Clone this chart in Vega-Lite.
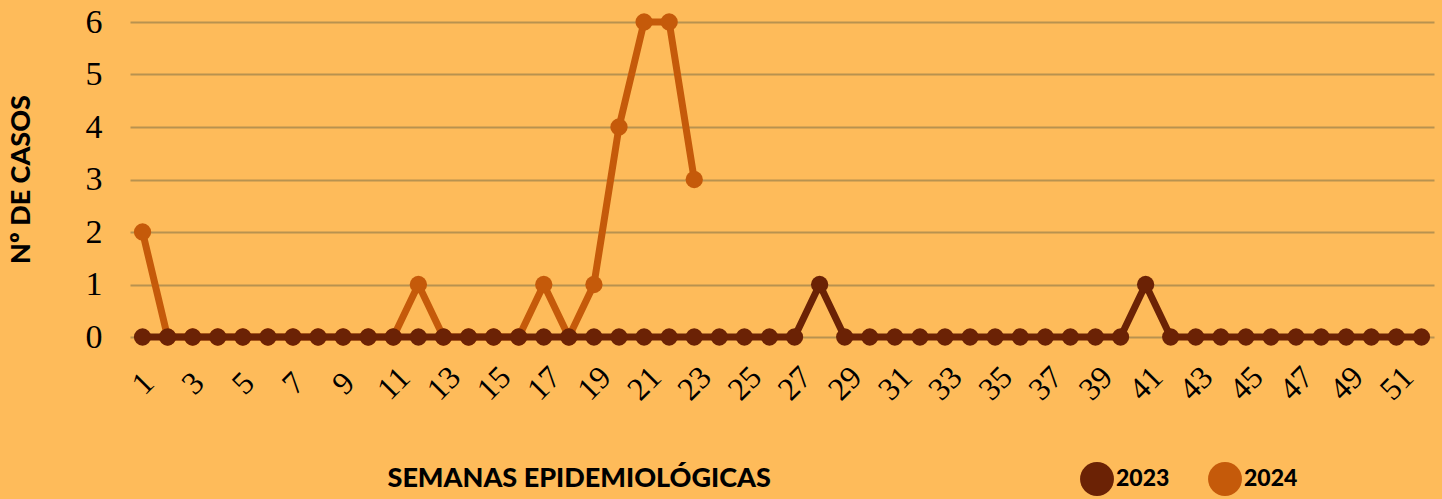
{
  "$schema": "https://vega.github.io/schema/vega-lite/v6.json",
  "width": 1304,
  "height": 315,
  "autosize": {"type": "none"},
  "padding": {"left": 130, "top": 22, "right": 8, "bottom": 162},
  "background": "#FEBB5A",
  "config": {"view": {"stroke": null}},
  "data": {"values": [
    {"semana":1,"anio":"2024","casos":2},{"semana":2,"anio":"2024","casos":0},{"semana":3,"anio":"2024","casos":0},{"semana":4,"anio":"2024","casos":0},{"semana":5,"anio":"2024","casos":0},{"semana":6,"anio":"2024","casos":0},{"semana":7,"anio":"2024","casos":0},{"semana":8,"anio":"2024","casos":0},{"semana":9,"anio":"2024","casos":0},{"semana":10,"anio":"2024","casos":0},{"semana":11,"anio":"2024","casos":0},{"semana":12,"anio":"2024","casos":1},{"semana":13,"anio":"2024","casos":0},{"semana":14,"anio":"2024","casos":0},{"semana":15,"anio":"2024","casos":0},{"semana":16,"anio":"2024","casos":0},{"semana":17,"anio":"2024","casos":1},{"semana":18,"anio":"2024","casos":0},{"semana":19,"anio":"2024","casos":1},{"semana":20,"anio":"2024","casos":4},{"semana":21,"anio":"2024","casos":6},{"semana":22,"anio":"2024","casos":6},{"semana":23,"anio":"2024","casos":3},
    {"semana":1,"anio":"2023","casos":0},{"semana":2,"anio":"2023","casos":0},{"semana":3,"anio":"2023","casos":0},{"semana":4,"anio":"2023","casos":0},{"semana":5,"anio":"2023","casos":0},{"semana":6,"anio":"2023","casos":0},{"semana":7,"anio":"2023","casos":0},{"semana":8,"anio":"2023","casos":0},{"semana":9,"anio":"2023","casos":0},{"semana":10,"anio":"2023","casos":0},{"semana":11,"anio":"2023","casos":0},{"semana":12,"anio":"2023","casos":0},{"semana":13,"anio":"2023","casos":0},{"semana":14,"anio":"2023","casos":0},{"semana":15,"anio":"2023","casos":0},{"semana":16,"anio":"2023","casos":0},{"semana":17,"anio":"2023","casos":0},{"semana":18,"anio":"2023","casos":0},{"semana":19,"anio":"2023","casos":0},{"semana":20,"anio":"2023","casos":0},{"semana":21,"anio":"2023","casos":0},{"semana":22,"anio":"2023","casos":0},{"semana":23,"anio":"2023","casos":0},{"semana":24,"anio":"2023","casos":0},{"semana":25,"anio":"2023","casos":0},{"semana":26,"anio":"2023","casos":0},{"semana":27,"anio":"2023","casos":0},{"semana":28,"anio":"2023","casos":1},{"semana":29,"anio":"2023","casos":0},{"semana":30,"anio":"2023","casos":0},{"semana":31,"anio":"2023","casos":0},{"semana":32,"anio":"2023","casos":0},{"semana":33,"anio":"2023","casos":0},{"semana":34,"anio":"2023","casos":0},{"semana":35,"anio":"2023","casos":0},{"semana":36,"anio":"2023","casos":0},{"semana":37,"anio":"2023","casos":0},{"semana":38,"anio":"2023","casos":0},{"semana":39,"anio":"2023","casos":0},{"semana":40,"anio":"2023","casos":0},{"semana":41,"anio":"2023","casos":1},{"semana":42,"anio":"2023","casos":0},{"semana":43,"anio":"2023","casos":0},{"semana":44,"anio":"2023","casos":0},{"semana":45,"anio":"2023","casos":0},{"semana":46,"anio":"2023","casos":0},{"semana":47,"anio":"2023","casos":0},{"semana":48,"anio":"2023","casos":0},{"semana":49,"anio":"2023","casos":0},{"semana":50,"anio":"2023","casos":0},{"semana":51,"anio":"2023","casos":0},{"semana":52,"anio":"2023","casos":0}
  ]},
  "encoding": {
    "x": {
      "field": "semana", "type": "quantitative",
      "scale": {"domain": [0.5, 52.5], "nice": false, "zero": false},
      "axis": {
        "title": "SEMANAS EPIDEMIOLÓGICAS",
        "values": [1,3,5,7,9,11,13,15,17,19,21,23,25,27,29,31,33,35,37,39,41,43,45,47,49,51],
        "grid": false, "domain": false, "ticks": false,
        "labelAngle": -45, "labelAlign": "center", "labelBaseline": "middle",
        "labelPadding": 46, "labelFont": "Liberation Serif", "labelFontSize": 32, "labelColor": "#000000",
        "titleFont": "Lato", "titleFontWeight": 900, "titleFontSize": 27, "titleColor": "#000000",
        "titleAnchor": "start", "titleAlign": "left", "titleBaseline": "middle", "titleX": 257, "titleY": 141
      }
    },
    "y": {
      "field": "casos", "type": "quantitative",
      "scale": {"domain": [0, 6], "nice": false},
      "axis": {
        "title": "Nº DE CASOS",
        "values": [0,1,2,3,4,5,6],
        "grid": true, "gridColor": "#B8924F", "gridWidth": 2,
        "domain": false, "ticks": false,
        "labelPadding": 28, "labelFont": "Liberation Serif", "labelFontSize": 34, "labelColor": "#000000",
        "titleFont": "Lato", "titleFontWeight": 900, "titleFontSize": 27, "titleColor": "#000000",
        "titleX": -95, "titleY": 157, "titleAnchor": "middle"
      }
    },
    "color": {
      "field": "anio", "type": "nominal",
      "scale": {"domain": ["2023", "2024"], "range": ["#6B2205", "#C55A0A"]},
      "legend": {
        "title": null, "orient": "none", "direction": "horizontal",
        "legendX": 950, "legendY": 440,
        "symbolType": "circle", "symbolSize": 1150, "symbolStrokeWidth": 0, "symbolOpacity": 1,
        "labelFont": "Lato", "labelFontWeight": 900, "labelFontSize": 23, "labelColor": "#000000",
        "labelOffset": 2, "columnPadding": 38
      }
    },
    "order": {"field": "semana", "type": "quantitative"}
  },
  "layer": [
    {
      "transform": [{"filter": "datum.anio == '2024'"}],
      "mark": {"type": "line", "strokeWidth": 7, "point": {"size": 300, "filled": true, "opacity": 1}}
    },
    {
      "transform": [{"filter": "datum.anio == '2023'"}],
      "mark": {"type": "line", "strokeWidth": 7, "point": {"size": 300, "filled": true, "opacity": 1}}
    }
  ]
}
